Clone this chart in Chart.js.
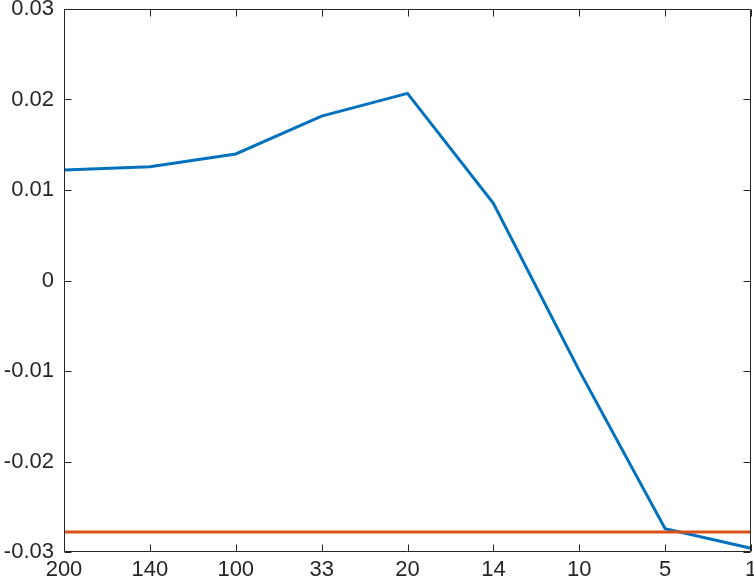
<!DOCTYPE html>
<html>
<head>
<meta charset="utf-8">
<script src="https://cdn.jsdelivr.net/npm/chart.js@4/dist/chart.umd.min.js"></script>
<style>
  html, body { margin: 0; padding: 0; background: #fff; }
  #wrap { width: 754px; height: 586px; }
</style>
</head>
<body>
<div id="wrap"><canvas id="myChart" width="754" height="586"></canvas></div>
<script>
const categories = ["200", "140", "100", "33", "20", "14", "10", "5", "1"];
const seriesValues = [0.0122, 0.01257, 0.01398, 0.01817, 0.02068, 0.00853, -0.00996, -0.02742, -0.02959];
const baselineValues = [-0.0278, -0.0278, -0.0278, -0.0278, -0.0278, -0.0278, -0.0278, -0.0278, -0.0278];
const yTicks = [-0.03, -0.02, -0.01, 0, 0.01, 0.02, 0.03];

const axisColor = "#262626";

// MATLAB-like box with inward ticks on every side
const boxPlugin = {
  id: "box",
  afterDatasetsDraw(chart) {
    const { ctx, chartArea: a, scales } = chart;
    const L = Math.round(a.left) + 0.5, R = Math.round(a.right) - 0.5;
    const T = Math.round(a.top) + 0.5, B = Math.round(a.bottom) - 0.5;
    const len = 7;
    ctx.save();
    ctx.strokeStyle = axisColor;
    ctx.lineWidth = 1;
    ctx.beginPath();
    ctx.rect(L, T, R - L, B - T);
    scales.x.ticks.forEach((t, i) => {
      const x = Math.round(scales.x.getPixelForTick(i)) + 0.5;
      ctx.moveTo(x, B); ctx.lineTo(x, B - len);
      ctx.moveTo(x, T); ctx.lineTo(x, T + len);
    });
    scales.y.ticks.forEach((t, i) => {
      const y = Math.round(scales.y.getPixelForTick(i)) + 0.5;
      ctx.moveTo(L, y); ctx.lineTo(L + len, y);
      ctx.moveTo(R, y); ctx.lineTo(R - len, y);
    });
    ctx.stroke();
    ctx.restore();
  }
};

const ctx = document.getElementById("myChart").getContext("2d");
new Chart(ctx, {
  type: "line",
  data: {
    labels: categories,
    datasets: [
      {
        data: seriesValues,
        borderColor: "#0072BD",
        borderWidth: 3,
        pointRadius: 0,
        tension: 0,
        order: 1,
      },
      {
        data: baselineValues,
        borderColor: "#D95319",
        borderWidth: 3,
        pointRadius: 0,
        tension: 0,
        order: 0,
      },
    ],
  },
  options: {
    responsive: false,
    animation: false,
    layout: { padding: { top: 9, right: 3, left: 0, bottom: 0 } },
    plugins: { legend: { display: false }, tooltip: { enabled: false } },
    scales: {
      x: {
        offset: false,
        grid: { display: false, drawTicks: false },
        border: { display: false },
        ticks: {
          color: axisColor,
          font: { family: "Liberation Sans, Arial, sans-serif", size: 22 },
          padding: 5,
          maxRotation: 0,
          autoSkip: false,
        },
        afterFit(scale) {
          scale.height = 34;
          scale.paddingLeft = 0;
          scale.paddingRight = 0;
        },
      },
      y: {
        min: -0.03,
        max: 0.03,
        grid: { display: false, drawTicks: false },
        border: { display: false },
        afterBuildTicks(scale) {
          scale.ticks = yTicks.map((v) => ({ value: v }));
        },
        ticks: {
          color: axisColor,
          font: { family: "Liberation Sans, Arial, sans-serif", size: 22 },
          padding: 10,
          callback: (v) => (Math.abs(v) < 1e-9 ? "0" : v.toFixed(2)),
        },
        afterFit(scale) {
          scale.width = 64;
          scale.paddingTop = 0;
          scale.paddingBottom = 0;
        },
      },
    },
  },
  plugins: [boxPlugin],
});
</script>
</body>
</html>
